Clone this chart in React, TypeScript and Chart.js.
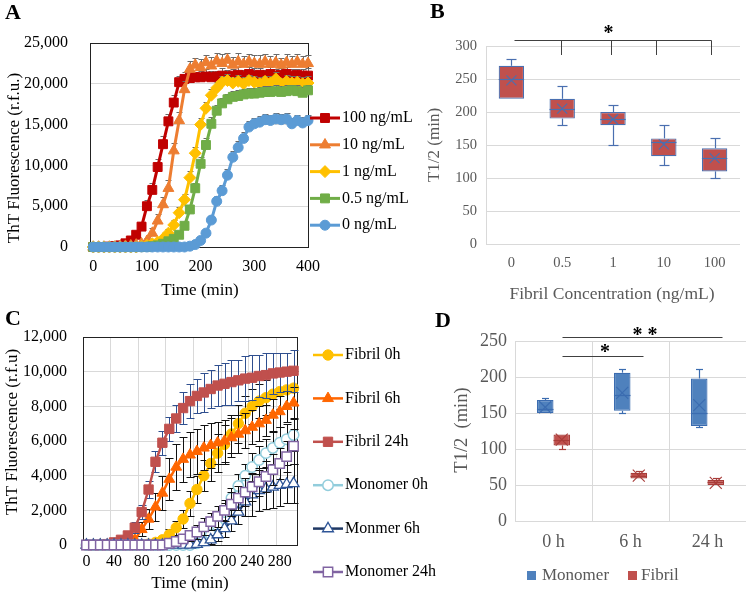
import { useEffect, useRef } from 'react';
import { Chart, registerables } from 'chart.js';
import { drawPoint } from 'chart.js/helpers';

Chart.register(...registerables);

const SERIF = "'Liberation Serif', 'Times New Roman', Times, serif";
const W = 747;
const H = 594;

// ================= Panel A data =================
const timesA = [0, 10, 20, 30, 40, 50, 60, 70, 80, 90, 100, 110, 120, 130, 140, 150, 160, 170, 180, 190, 200, 210, 220, 230, 240, 250, 260, 270, 280, 290, 300, 310, 320, 330, 340, 350, 360, 370, 380, 390, 400];
const xTicksA = [0, 100, 200, 300, 400];
const labelsA = ['100 ng/mL', '10 ng/mL', '1 ng/mL', '0.5 ng/mL', '0 ng/mL'];
const a100 = [0, 0, 0, 50, 100, 200, 450, 800, 1500, 2500, 5000, 7000, 9800, 12600, 15400, 17700, 20200, 20600, 20700, 20800, 20800, 20900, 20800, 20900, 21000, 20900, 21000, 21100, 21000, 21200, 21000, 21100, 21000, 21200, 21000, 21100, 21200, 21000, 21100, 21000, 21000];
const a10 = [0, 0, 0, 0, 0, 50, 100, 150, 250, 400, 700, 1700, 3200, 5200, 7200, 11800, 15500, 19300, 21800, 22300, 22000, 22600, 22200, 22800, 22500, 22900, 22300, 22700, 22400, 22700, 22500, 22400, 22700, 22400, 22600, 22300, 22600, 22400, 22700, 22400, 22500];
const a1 = [0, 0, 0, 0, 0, 0, 0, 0, 0, 100, 200, 400, 600, 1000, 1700, 2700, 4200, 5800, 8500, 11500, 15000, 17000, 18600, 19500, 20200, 20400, 20100, 20300, 20000, 20400, 20200, 20000, 20300, 20100, 20600, 20000, 20300, 20100, 20200, 20000, 20100];
const a05 = [0, 0, 0, 0, 0, 0, 0, 0, 0, 0, 0, 100, 200, 400, 700, 1000, 1500, 2600, 4600, 7200, 10200, 12500, 15100, 16700, 17600, 18100, 18400, 18500, 18700, 18800, 18800, 18900, 19000, 19000, 19100, 19000, 19100, 19200, 19100, 18900, 19200];
const a0 = [0, 0, 0, 0, 0, 0, 0, 0, 0, 0, 0, 0, 0, 0, 0, 0, 0, 0, 100, 300, 800, 1700, 3300, 5600, 6900, 8800, 11000, 12200, 13300, 14700, 15100, 15300, 15600, 15500, 15700, 15600, 15700, 15100, 15500, 15200, 15500];
const eA100 = [100, 100, 100, 100, 100, 100, 200, 300, 400, 600, 800, 900, 1000, 1000, 900, 900, 800, 800, 900, 700, 800, 900, 800, 700, 900, 800, 800, 900, 700, 800, 900, 800, 700, 900, 800, 800, 900, 800, 700, 800, 900];
const eA10 = [100, 100, 100, 100, 100, 100, 100, 100, 200, 300, 400, 600, 800, 900, 1000, 1000, 1000, 1000, 1000, 900, 1000, 900, 1100, 1000, 1100, 900, 1000, 1100, 1000, 900, 1000, 1100, 900, 1000, 1000, 900, 1100, 1000, 900, 1000, 1000];
const eA1 = [100, 100, 100, 100, 100, 100, 100, 100, 100, 200, 200, 300, 300, 400, 500, 600, 700, 700, 800, 800, 800, 800, 800, 700, 800, 800, 700, 800, 800, 700, 800, 800, 700, 800, 800, 700, 800, 800, 700, 800, 800];
const eA05 = [100, 100, 100, 100, 100, 100, 100, 100, 100, 100, 100, 100, 200, 200, 300, 300, 400, 500, 600, 700, 800, 800, 800, 700, 700, 700, 700, 700, 700, 700, 700, 700, 700, 700, 700, 700, 700, 700, 700, 700, 700];
const eA0 = [100, 100, 100, 100, 100, 100, 100, 100, 100, 100, 100, 100, 100, 100, 100, 100, 100, 100, 200, 200, 300, 400, 500, 600, 700, 700, 800, 800, 800, 800, 700, 700, 700, 700, 700, 700, 700, 700, 700, 700, 700];

// ================= Panel B data =================
const catsB = ['0', '0.5', '1', '10', '100'];
const bMin = [220, 180, 150, 120, 100];
const bQ1 = [220, 190, 180, 133, 110];
const bMedian = [250, 205, 190, 155, 130];
const bQ3 = [270, 220, 200, 160, 145];
const bMax = [280, 240, 210, 180, 160];
const bMean = [248, 205, 189, 151, 130];

// ================= Panel C data =================
const timesC = ['0', '10', '20', '30', '40', '50', '60', '70', '80', '90', '100', '110', '120', '130', '140', '150', '160', '170', '180', '190', '200', '210', '220', '230', '240', '250', '260', '270', '280', '290', '300'];
const labelsC = ['Fibril 0h', 'Fibril 6h', 'Fibril 24h', 'Monomer 0h', 'Monmer 6h', 'Monomer 24h'];
const cFib0 = [0, 0, 0, 0, 0, 0, 0, 0, 0, 50, 150, 300, 600, 1000, 1500, 2400, 3200, 4000, 4700, 5300, 5800, 6400, 7000, 7600, 8000, 8300, 8500, 8700, 8850, 8950, 9050];
const cFib6 = [0, 0, 0, 0, 0, 0, 100, 300, 900, 1500, 2200, 3000, 3800, 4500, 4950, 5200, 5400, 5600, 5750, 5900, 6000, 6200, 6400, 6600, 6800, 7000, 7200, 7500, 7700, 8000, 8200];
const cFib24 = [0, 0, 0, 50, 150, 300, 550, 1000, 1900, 3200, 4800, 5900, 6700, 7300, 7900, 8300, 8600, 8800, 9000, 9200, 9300, 9400, 9500, 9600, 9650, 9750, 9800, 9900, 9950, 10000, 10050];
const cMono0 = [0, 0, 0, 0, 0, 0, 0, 0, 0, 0, 0, 0, 0, 0, 0, 0, 100, 250, 600, 1100, 1900, 2700, 3400, 4000, 4500, 4900, 5300, 5600, 5900, 6100, 6350];
const cMono6 = [0, 0, 0, 0, 0, 0, 0, 0, 0, 0, 0, 0, 0, 0, 0, 0, 50, 150, 300, 600, 950, 1400, 1900, 2500, 2900, 3150, 3250, 3350, 3450, 3500, 3550];
const cMono24 = [0, 0, 0, 0, 0, 0, 0, 0, 0, 0, 0, 0, 100, 200, 350, 550, 750, 1050, 1350, 1650, 2000, 2350, 2700, 3050, 3350, 3650, 3950, 4350, 4700, 5100, 5700];
const eCFib0 = [50, 50, 50, 50, 50, 50, 50, 50, 50, 50, 50, 200, 300, 400, 500, 700, 800, 900, 1000, 1100, 1100, 1100, 1100, 1000, 1000, 1000, 1000, 1000, 1000, 1000, 1000];
const eCFib6 = [50, 50, 50, 50, 50, 50, 50, 200, 400, 600, 800, 1000, 1200, 1300, 1300, 1300, 1300, 1300, 1300, 1200, 1200, 1100, 1100, 1000, 1000, 1000, 900, 900, 900, 900, 900];
const eCFib24 = [50, 50, 50, 50, 50, 50, 200, 300, 400, 500, 600, 700, 700, 800, 900, 1000, 1000, 1100, 1100, 1200, 1200, 1300, 1200, 1300, 1300, 1200, 1300, 1200, 1100, 1100, 1200];
const eCMono0 = [50, 50, 50, 50, 50, 50, 50, 50, 50, 50, 50, 50, 50, 50, 50, 50, 100, 200, 300, 400, 500, 600, 700, 700, 800, 800, 800, 900, 900, 900, 900];
const eCMono6 = [50, 50, 50, 50, 50, 50, 50, 50, 50, 50, 50, 50, 50, 50, 50, 50, 100, 150, 250, 350, 500, 600, 700, 800, 1200, 1200, 1200, 1200, 1200, 1100, 1100];
const eCMono24 = [50, 50, 50, 50, 50, 50, 50, 50, 50, 50, 50, 50, 100, 150, 200, 300, 400, 500, 500, 600, 600, 700, 700, 800, 800, 800, 900, 900, 900, 900, 1000];

// ================= Panel D data =================
const catsD = ['0 h', '6 h', '24 h'];
const monoMin = [150, 150, 130];
const monoQ1 = [150, 153, 132];
const monoMedian = [155, 175, 150];
const monoQ3 = [168, 206, 198];
const monoMax = [171, 211, 211];
const monoMean = [158, 178, 161];
const fibMin = [100, 59, 50];
const fibQ1 = [105, 59, 50];
const fibMedian = [112, 63, 54];
const fibQ3 = [120, 67, 57];
const fibMax = [120, 70, 60];
const fibMean = [113, 63, 53];

// ================= helpers =================
const fnt = (size: number, weight = 'normal') => `${weight} ${size}px ${SERIF}`;

function txt(ctx: any, s: string, x: number, y: number, size: number, opts: any = {}) {
  ctx.save();
  ctx.font = fnt(size, opts.weight || 'normal');
  ctx.fillStyle = opts.color || '#000';
  ctx.textAlign = opts.align || 'left';
  ctx.textBaseline = opts.baseline || 'middle';
  if (opts.rotate) {
    ctx.translate(x, y);
    ctx.rotate(-Math.PI / 2);
    ctx.fillText(s, 0, 0);
  } else {
    ctx.fillText(s, x, y);
  }
  ctx.restore();
}

function seg(ctx: any, x1: number, y1: number, x2: number, y2: number) {
  ctx.beginPath();
  ctx.moveTo(x1, y1);
  ctx.lineTo(x2, y2);
  ctx.stroke();
}

const crisp = (v: number) => Math.round(v) + 0.5;

function decor(draw: (ctx: any, chart: any) => void) {
  return {
    id: 'decor',
    afterDraw(chart: any) {
      const ctx = chart.ctx;
      ctx.save();
      draw(ctx, chart);
      ctx.restore();
    },
  };
}

function framePlugin(color: string) {
  return {
    id: 'frame',
    beforeDatasetsDraw(chart: any) {
      const { left, top, right, bottom } = chart.chartArea;
      const ctx = chart.ctx;
      ctx.save();
      ctx.strokeStyle = color;
      ctx.lineWidth = 1;
      ctx.strokeRect(crisp(left), crisp(top), Math.round(right - left), Math.round(bottom - top));
      ctx.restore();
    },
  };
}

function errorBarPlugin(capHalf: number, both: boolean) {
  return {
    id: 'errorBars',
    beforeDatasetDraw(chart: any, args: any) {
      const ds = chart.data.datasets[args.index];
      if (!ds.errors) return;
      const ys = chart.scales.y;
      const ctx = chart.ctx;
      ctx.save();
      ctx.strokeStyle = ds.errorColor;
      ctx.lineWidth = 1;
      ctx.beginPath();
      args.meta.data.forEach((pt: any, i: number) => {
        const v = ds.vals[i];
        const e = ds.errors[i];
        const x = crisp(pt.x);
        const yt = crisp(ys.getPixelForValue(v + e));
        const yb = both ? crisp(ys.getPixelForValue(v - e)) : pt.y;
        ctx.moveTo(x, yt);
        ctx.lineTo(x, yb);
        ctx.moveTo(x - capHalf, yt);
        ctx.lineTo(x + capHalf, yt);
        if (both) {
          ctx.moveTo(x - capHalf, yb);
          ctx.lineTo(x + capHalf, yb);
        }
      });
      ctx.stroke();
      ctx.restore();
    },
  };
}

function boxPlugin(capHalf: number, meanHalf: number) {
  return {
    id: 'boxes',
    beforeDatasetsDraw(chart: any) {
      const ctx = chart.ctx;
      const ys = chart.scales.y;
      ctx.save();
      chart.data.datasets.forEach((ds: any, di: number) => {
        const meta = chart.getDatasetMeta(di);
        ctx.strokeStyle = ds.whiskerColor;
        ctx.lineWidth = 1.2;
        meta.data.forEach((bar: any, i: number) => {
          const x = crisp(bar.x);
          if (ds.max[i] > ds.q3[i]) {
            const yM = crisp(ys.getPixelForValue(ds.max[i]));
            seg(ctx, x, ys.getPixelForValue(ds.q3[i]), x, yM);
            seg(ctx, x - capHalf, yM, x + capHalf, yM);
          }
          if (ds.min[i] < ds.q1[i]) {
            const ym = crisp(ys.getPixelForValue(ds.min[i]));
            seg(ctx, x, ys.getPixelForValue(ds.q1[i]), x, ym);
            seg(ctx, x - capHalf, ym, x + capHalf, ym);
          }
        });
      });
      ctx.restore();
    },
    afterDatasetsDraw(chart: any) {
      const ctx = chart.ctx;
      const ys = chart.scales.y;
      ctx.save();
      chart.data.datasets.forEach((ds: any, di: number) => {
        const meta = chart.getDatasetMeta(di);
        ctx.strokeStyle = ds.whiskerColor;
        ctx.lineWidth = 1.2;
        meta.data.forEach((bar: any, i: number) => {
          const half = bar.width / 2;
          const ymed = crisp(ys.getPixelForValue(ds.median[i]));
          seg(ctx, bar.x - half, ymed, bar.x + half, ymed);
          const ymean = ys.getPixelForValue(ds.mean[i]);
          seg(ctx, bar.x - meanHalf, ymean - meanHalf, bar.x + meanHalf, ymean + meanHalf);
          seg(ctx, bar.x - meanHalf, ymean + meanHalf, bar.x + meanHalf, ymean - meanHalf);
        });
      });
      ctx.restore();
    },
  };
}

function legendEntry(ctx: any, s: any, x1: number, x2: number, y: number, textX: number, size: number) {
  ctx.save();
  ctx.strokeStyle = s.line;
  ctx.lineWidth = s.lw;
  seg(ctx, x1, y, x2, y);
  ctx.fillStyle = s.fill;
  ctx.strokeStyle = s.stroke;
  ctx.lineWidth = s.pbw;
  drawPoint(ctx, { pointStyle: s.style, radius: s.r, rotation: 0, borderWidth: s.pbw } as any, (x1 + x2) / 2, y);
  ctx.restore();
  txt(ctx, s.label, textX, y, size);
}

const baseOptions = (padding: any) => ({
  responsive: false,
  animation: false as const,
  devicePixelRatio: 1,
  events: [],
  layout: { padding },
  plugins: { legend: { display: false }, tooltip: { enabled: false }, title: { display: false } },
});

// ================= Panel A =================
function configA(): any {
  const valsA = [a100, a10, a1, a05, a0];
  const errsA = [eA100, eA10, eA1, eA05, eA0];
  const styles = [
    { line: '#C00000', fill: '#C00000', stroke: '#C00000', style: 'rect', r: 6.3, lw: 3, pbw: 1 },
    { line: '#ED7D31', fill: '#ED7D31', stroke: '#ED7D31', style: 'triangle', r: 6.3, lw: 3, pbw: 1 },
    { line: '#FFC000', fill: '#FFC000', stroke: '#FFC000', style: 'rectRot', r: 6, lw: 3, pbw: 1 },
    { line: '#70AD47', fill: '#70AD47', stroke: '#70AD47', style: 'rect', r: 6.3, lw: 3, pbw: 1 },
    { line: '#5B9BD5', fill: '#5B9BD5', stroke: '#5B9BD5', style: 'circle', r: 5, lw: 3, pbw: 1 },
  ];
  const series = labelsA.map((label, i) => ({ ...styles[i], label }));
  return {
    type: 'line',
    data: {
      datasets: series.map((s, i) => ({
        label: s.label,
        data: timesA.map((t, j) => ({ x: t, y: valsA[i][j] })),
        borderColor: s.line,
        backgroundColor: s.fill,
        pointBackgroundColor: s.fill,
        pointBorderColor: s.stroke,
        pointStyle: s.style,
        pointRadius: s.r,
        pointBorderWidth: s.pbw,
        borderWidth: s.lw,
        tension: 0,
        order: -i,
        clip: false,
        vals: valsA[i],
        errors: errsA[i],
        errorColor: '#6b6b6b',
      })),
    },
    options: {
      ...baseOptions({ left: 10, top: 43, right: W - 308, bottom: H - 247 - 40 }),
      scales: {
        x: {
          type: 'linear',
          min: -6,
          max: 400,
          afterBuildTicks: (s: any) => { s.ticks = xTicksA.map((v) => ({ value: v })); },
          afterFit: (s: any) => { s.height = 40; },
          grid: { display: false, drawTicks: false },
          border: { display: false },
          ticks: { font: { family: SERIF, size: 16 }, color: '#000', padding: 10, maxRotation: 0, minRotation: 0, callback: (v: any) => String(v) },
        },
        y: {
          min: 0,
          max: 25000,
          afterFit: (s: any) => { s.width = 80; },
          grid: { color: '#d9d9d9', drawTicks: false },
          border: { display: false },
          ticks: { stepSize: 5000, font: { family: SERIF, size: 16 }, color: '#000', padding: 22, callback: (v: any) => Number(v).toLocaleString('en-US') },
        },
      },
    },
    plugins: [
      framePlugin('#222'),
      errorBarPlugin(3, false),
      decor((ctx) => {
        txt(ctx, 'A', 5, 19, 22, { weight: 'bold', baseline: 'alphabetic' });
        txt(ctx, 'ThT Fluorescence (r.f.u.)', 15, 158, 17, { align: 'center', rotate: true });
        txt(ctx, 'Time (min)', 200, 291, 17, { align: 'center' });
        series.forEach((s, i) => legendEntry(ctx, s, 310, 340, 118 + 26.8 * i, 342, 16));
      }),
    ],
  };
}

// ================= Panel B =================
function configB(): any {
  return {
    type: 'bar',
    data: {
      labels: catsB,
      datasets: [
        {
          label: 'T1/2',
          data: bQ1.map((v, i) => [v, bQ3[i]]),
          backgroundColor: '#C0504D',
          borderColor: '#4A6FB0',
          borderWidth: 1.2,
          borderSkipped: false,
          categoryPercentage: 1,
          barPercentage: 0.5,
          min: bMin, q1: bQ1, median: bMedian, q3: bQ3, max: bMax, mean: bMean,
          whiskerColor: '#4A6FB0',
        },
      ],
    },
    options: {
      ...baseOptions({ left: 436, top: 46, right: W - 740, bottom: H - 244 - 40 }),
      scales: {
        x: {
          afterFit: (s: any) => { s.height = 40; },
          grid: { display: false, drawTicks: false },
          border: { display: false },
          ticks: { font: { family: SERIF, size: 14.5 }, color: '#595959', padding: 10.5, maxRotation: 0 },
        },
        y: {
          min: 0,
          max: 300,
          afterFit: (s: any) => { s.width = 50; },
          grid: { color: '#d9d9d9', drawTicks: false },
          border: { display: true, color: '#d9d9d9', width: 1 },
          ticks: { stepSize: 50, font: { family: SERIF, size: 14.5 }, color: '#595959', padding: 9 },
        },
      },
    },
    plugins: [
      boxPlugin(5, 5),
      decor((ctx, chart) => {
        txt(ctx, 'B', 430, 18, 22, { weight: 'bold', baseline: 'alphabetic' });
        txt(ctx, 'T1/2 (min)', 435, 145, 17, { align: 'center', rotate: true, color: '#595959' });
        txt(ctx, 'Fibril Concentration (ng/mL)', 612, 294, 17.5, { align: 'center', color: '#595959' });
        const xs = chart.scales.x;
        const c = (i: number) => xs.getPixelForValue(i);
        ctx.strokeStyle = '#404040';
        ctx.lineWidth = 1;
        const yL = 40.5;
        seg(ctx, crisp(c(0) + 3), yL, crisp(c(4) - 4), yL);
        [c(1) - 1, c(2) - 2, c(3) - 8, c(4) - 4].forEach((x) => seg(ctx, crisp(x), yL, crisp(x), 55));
        txt(ctx, '*', 608.5, 38.5, 20, { align: 'center', baseline: 'alphabetic', weight: 'bold' });
      }),
    ],
  };
}

// ================= Panel C =================
function configC(): any {
  const valsC = [cFib0, cFib6, cFib24, cMono0, cMono6, cMono24];
  const errsC = [eCFib0, eCFib6, eCFib24, eCMono0, eCMono6, eCMono24];
  const styles = [
    { line: '#FFC000', fill: '#FFC000', stroke: '#FFC000', style: 'circle', r: 5.2, lw: 2.5, pbw: 1, err: '#111' },
    { line: '#FF6600', fill: '#FF6600', stroke: '#FF6600', style: 'triangle', r: 6.3, lw: 2.5, pbw: 1, err: '#111' },
    { line: '#C0504D', fill: '#C0504D', stroke: '#C0504D', style: 'rect', r: 6.6, lw: 2.5, pbw: 1, err: '#2F4F8F' },
    { line: '#92CDDC', fill: '#FFFFFF', stroke: '#92CDDC', style: 'circle', r: 5.2, lw: 2.5, pbw: 1.5, err: '#111' },
    { line: '#1F3864', fill: '#FFFFFF', stroke: '#2E5597', style: 'triangle', r: 6.3, lw: 2.5, pbw: 1.3, err: '#111' },
    { line: '#8064A2', fill: '#FFFFFF', stroke: '#8064A2', style: 'rect', r: 6.6, lw: 2.5, pbw: 1.5, err: '#111' },
  ];
  const series = labelsC.map((label, i) => ({ ...styles[i], label }));
  return {
    type: 'line',
    data: {
      labels: timesC,
      datasets: series.map((s, i) => ({
        label: s.label,
        data: valsC[i],
        borderColor: s.line,
        backgroundColor: s.fill,
        pointBackgroundColor: s.fill,
        pointBorderColor: s.stroke,
        pointStyle: s.style,
        pointRadius: s.r,
        pointBorderWidth: s.pbw,
        borderWidth: s.lw,
        tension: 0,
        order: -i,
        clip: false,
        vals: valsC[i],
        errors: errsC[i],
        errorColor: s.err,
      })),
    },
    options: {
      ...baseOptions({ left: 3, top: 337, right: W - 297, bottom: H - 545 - 30 }),
      scales: {
        x: {
          type: 'category',
          offset: true,
          afterFit: (s: any) => { s.height = 30; },
          grid: {
            offset: true,
            drawTicks: false,
            color: (c: any) => (c.index > 0 && c.index < timesC.length && c.index % 4 === 0 ? '#d9d9d9' : 'rgba(0,0,0,0)'),
          },
          border: { display: false },
          ticks: {
            autoSkip: false,
            maxRotation: 0,
            minRotation: 0,
            font: { family: SERIF, size: 16 },
            color: '#000',
            padding: 7,
            callback: (_v: any, idx: number) => (idx % 4 === 0 ? timesC[idx] : ''),
          },
        },
        y: {
          min: 0,
          max: 12000,
          afterFit: (s: any) => { s.width = 80; },
          grid: { color: '#d9d9d9', drawTicks: false },
          border: { display: false },
          ticks: { stepSize: 2000, font: { family: SERIF, size: 16 }, color: '#000', padding: 16, callback: (v: any) => Number(v).toLocaleString('en-US') },
        },
      },
    },
    plugins: [
      framePlugin('#222'),
      errorBarPlugin(4, true),
      decor((ctx) => {
        txt(ctx, 'C', 5, 325, 22, { weight: 'bold', baseline: 'alphabetic' });
        txt(ctx, 'ThT Fluorescence (r.f.u)', 13, 432, 17, { align: 'center', rotate: true });
        txt(ctx, 'Time (min)', 190, 584, 17, { align: 'center' });
        series.forEach((s, i) => legendEntry(ctx, s, 313, 343, 355 + 43.4 * i, 345, 16));
      }),
    ],
  };
}

// ================= Panel D =================
function configD(): any {
  const common = { borderWidth: 1.2, borderSkipped: false, categoryPercentage: 0.43, barPercentage: 1 };
  return {
    type: 'bar',
    data: {
      labels: catsD,
      datasets: [
        {
          label: 'Monomer',
          data: monoQ1.map((v, i) => [v, monoQ3[i]]),
          backgroundColor: '#4F81BD',
          borderColor: '#3B6CB0',
          ...common,
          min: monoMin, q1: monoQ1, median: monoMedian, q3: monoQ3, max: monoMax, mean: monoMean,
          whiskerColor: '#3B6CB0',
        },
        {
          label: 'Fibril',
          data: fibQ1.map((v, i) => [v, fibQ3[i]]),
          backgroundColor: '#C0504D',
          borderColor: '#A83C39',
          ...common,
          min: fibMin, q1: fibQ1, median: fibMedian, q3: fibQ3, max: fibMax, mean: fibMean,
          whiskerColor: '#A83C39',
        },
      ],
    },
    options: {
      ...baseOptions({ left: 465, top: 341, right: W - 746, bottom: H - 521 - 40 }),
      scales: {
        x: {
          afterFit: (s: any) => { s.height = 40; },
          grid: { offset: true, drawTicks: false, color: (c: any) => (c.index < catsD.length ? '#d9d9d9' : 'rgba(0,0,0,0)') },
          border: { display: false },
          ticks: { font: { family: SERIF, size: 18 }, color: '#595959', padding: 10.5, maxRotation: 0 },
        },
        y: {
          min: 0,
          max: 250,
          afterFit: (s: any) => { s.width = 50; },
          grid: { color: '#d9d9d9', drawTicks: false },
          border: { display: false },
          ticks: { stepSize: 50, font: { family: SERIF, size: 18 }, color: '#595959', padding: 8 },
        },
      },
    },
    plugins: [
      boxPlugin(3.5, 6),
      decor((ctx, chart) => {
        txt(ctx, 'D', 435, 327, 22, { weight: 'bold', baseline: 'alphabetic' });
        txt(ctx, 'T1/2  (min)', 462, 430, 18.5, { align: 'center', rotate: true, color: '#595959' });
        const xs = chart.scales.x;
        const c = (i: number) => xs.getPixelForValue(i);
        ctx.strokeStyle = '#404040';
        ctx.lineWidth = 1;
        seg(ctx, crisp(c(0) + 8), 337.5, crisp(c(2) + 14), 337.5);
        seg(ctx, crisp(c(0) + 8), 356.5, crisp(c(1) + 12), 356.5);
        txt(ctx, '* *', 645, 341, 20, { align: 'center', baseline: 'alphabetic', weight: 'bold' });
        txt(ctx, '*', 605, 358, 20, { align: 'center', baseline: 'alphabetic', weight: 'bold' });
        // legend
        ctx.fillStyle = '#4F81BD';
        ctx.fillRect(527, 571, 9, 9);
        ctx.fillStyle = '#C0504D';
        ctx.fillRect(628, 571, 9, 9);
        txt(ctx, 'Monomer', 542, 576, 17, { color: '#595959' });
        txt(ctx, 'Fibril', 641, 576, 17, { color: '#595959' });
      }),
    ],
  };
}

export default function App() {
  const refA = useRef<HTMLCanvasElement>(null);
  const refB = useRef<HTMLCanvasElement>(null);
  const refC = useRef<HTMLCanvasElement>(null);
  const refD = useRef<HTMLCanvasElement>(null);

  useEffect(() => {
    const charts = [
      new Chart(refA.current as HTMLCanvasElement, configA()),
      new Chart(refB.current as HTMLCanvasElement, configB()),
      new Chart(refC.current as HTMLCanvasElement, configC()),
      new Chart(refD.current as HTMLCanvasElement, configD()),
    ];
    return () => charts.forEach((ch) => ch.destroy());
  }, []);

  const cs: any = { position: 'absolute', left: 0, top: 0, width: W, height: H };
  return (
    <div style={{ position: 'absolute', left: 0, top: 0, width: W, height: H, background: '#fff', overflow: 'hidden' }}>
      <canvas ref={refA} width={W} height={H} style={cs} />
      <canvas ref={refB} width={W} height={H} style={cs} />
      <canvas ref={refC} width={W} height={H} style={cs} />
      <canvas ref={refD} width={W} height={H} style={cs} />
    </div>
  );
}
